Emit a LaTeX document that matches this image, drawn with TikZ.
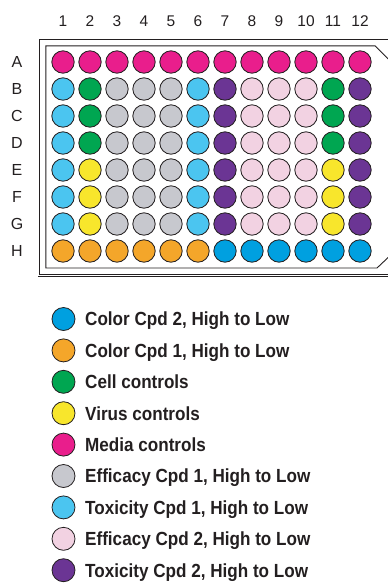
\documentclass[tikz,border=0pt]{standalone}
\usepackage{fontspec}
\setmainfont{Liberation Sans}
\newfontfamily\keyfont[FakeStretch=0.9]{Liberation Sans}
\usetikzlibrary{positioning}
\definecolor{mag}{RGB}{233,30,140}
\definecolor{grn}{RGB}{0,166,81}
\definecolor{gry}{RGB}{199,200,206}
\definecolor{lblu}{RGB}{75,197,240}
\definecolor{pur}{RGB}{107,53,148}
\definecolor{pnk}{RGB}{242,210,226}
\definecolor{yel}{RGB}{248,230,44}
\definecolor{org}{RGB}{244,166,42}
\definecolor{blu}{RGB}{0,160,224}
\definecolor{ink}{RGB}{35,31,32}

\begin{document}
\begin{tikzpicture}[
  x=1pt, y=-1pt,
  node distance=8.4pt,
  well/.style={circle, draw=ink, line width=0.8pt, minimum size=22.4pt, inner sep=0pt, outer sep=0pt},
  key/.style={circle, draw=ink, line width=0.8pt, minimum size=23pt, inner sep=0pt, outer sep=0pt},
  keytext/.style={inner sep=0pt, text height=13.6pt, text depth=0pt, text=ink, font=\keyfont\bfseries\fontsize{19}{21}\selectfont},
  collab/.style={inner sep=0pt, text=ink, font=\fontsize{15.5}{16}\selectfont},
  rowlab/.style={inner sep=0pt, text=ink, font=\fontsize{16}{17}\selectfont},
]
\useasboundingbox (0,0) rectangle (388,584);
\clip (0,0) rectangle (388,584);

% plate frame
\draw[draw=ink, line width=0.6pt, double=white, double distance=1.2pt] (38.7,38.7) rectangle (410,275.5);
\draw[draw=ink, line width=0.9pt] (45.8,45.8) -- (375,45.8) -- (395,65.8) -- (395,251) -- (377,268) -- (45.8,268) -- cycle;

% column numbers
\foreach \c in {1,...,12}
  \node[collab] (col\c) at (36+27*\c, 21) {\c};

% wells, row by row
\foreach \lab/\cols [count=\r] in {
    A/{mag,mag,mag,mag,mag,mag,mag,mag,mag,mag,mag,mag},
    B/{lblu,grn,gry,gry,gry,lblu,pur,pnk,pnk,pnk,grn,pur},
    C/{lblu,grn,gry,gry,gry,lblu,pur,pnk,pnk,pnk,grn,pur},
    D/{lblu,grn,gry,gry,gry,lblu,pur,pnk,pnk,pnk,grn,pur},
    E/{lblu,yel,gry,gry,gry,lblu,pur,pnk,pnk,pnk,yel,pur},
    F/{lblu,yel,gry,gry,gry,lblu,pur,pnk,pnk,pnk,yel,pur},
    G/{lblu,yel,gry,gry,gry,lblu,pur,pnk,pnk,pnk,yel,pur},
    H/{org,org,org,org,org,org,blu,blu,blu,blu,blu,blu}} {
  \node[rowlab] (row\lab) at (17, 35+27*\r) {\lab};
  \foreach \fillc [count=\c] in \cols
    \node[well, fill=\fillc] (w\lab\c) at (36+27*\c, 35+27*\r) {};
}

% legend
\node[key, fill=blu] (colorb) at (63.5,319) {};
\node[keytext, right=10pt of colorb] (colorbtxt) {Color Cpd 2, High to Low};
\node[key, fill=org, below=of colorb] (colora) {};
\node[keytext, right=10pt of colora] (coloratxt) {Color Cpd 1, High to Low};
\node[key, fill=grn, below=of colora] (cellc) {};
\node[keytext, right=10pt of cellc] (cellctxt) {Cell controls};
\node[key, fill=yel, below=of cellc] (virusc) {};
\node[keytext, right=10pt of virusc] (virusctxt) {Virus controls};
\node[key, fill=mag, below=of virusc] (mediac) {};
\node[keytext, right=10pt of mediac] (mediactxt) {Media controls};
\node[key, fill=gry, below=of mediac] (effa) {};
\node[keytext, right=10pt of effa] (effatxt) {Efficacy Cpd 1, High to Low};
\node[key, fill=lblu, below=of effa] (toxa) {};
\node[keytext, right=10pt of toxa] (toxatxt) {Toxicity Cpd 1, High to Low};
\node[key, fill=pnk, below=of toxa] (effb) {};
\node[keytext, right=10pt of effb] (effbtxt) {Efficacy Cpd 2, High to Low};
\node[key, fill=pur, below=of effb] (toxb) {};
\node[keytext, right=10pt of toxb] (toxbtxt) {Toxicity Cpd 2, High to Low};
\end{tikzpicture}
\end{document}
